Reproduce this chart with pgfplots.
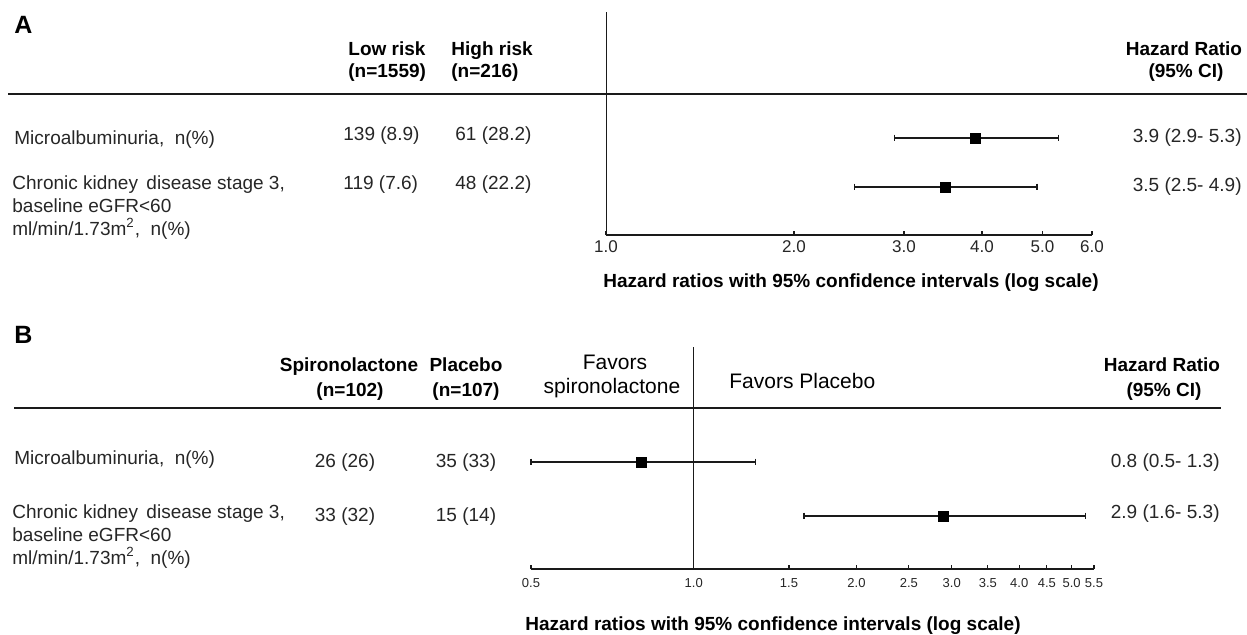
\documentclass[border=0pt]{standalone}
\usepackage{pgfplots}
\pgfplotsset{compat=1.18}
\usepackage{pgfplotstable}
\usepackage{fontspec}
\setmainfont{Liberation Sans}
\definecolor{txt}{HTML}{262626}
\definecolor{lin}{HTML}{1A1A1A}
\newcommand\bodyfont{\fontsize{9.5}{11}\selectfont}
\begin{document}
\begin{tikzpicture}
% ---------------- data ----------------
\pgfplotstableread{
x y
3.9 -138
3.5 -187
}\ptA
\pgfplotstableread{
x y
2.9 -138
5.3 -138
nan nan
2.5 -187
4.9 -187
}\ciA
\pgfplotstableread{
x y
0.8 -462
2.9 -516
}\ptB
\pgfplotstableread{
x y
0.5 -462
1.3 -462
nan nan
1.6 -516
5.3 -516
}\ciB
% ---------------- texts (pixel coordinates) ----------------
\begin{scope}[x=0.5pt,y=-0.5pt, every node/.style={inner sep=0pt, font=\bodyfont, text=txt}]
% Panel A
\node[anchor=base west, font=\fontsize{12.5}{14}\selectfont\bfseries, text=black] at (14,33) {A};
\node[anchor=base west, font=\bodyfont\bfseries, text=black] at (348,55) {Low risk};
\node[anchor=base west, font=\bodyfont\bfseries, text=black] at (348,77) {(n=1559)};
\node[anchor=base west, font=\bodyfont\bfseries, text=black] at (451,55) {High risk};
\node[anchor=base west, font=\bodyfont\bfseries, text=black] at (451,77) {(n=216)};
\node[anchor=base, font=\bodyfont\bfseries, text=black] at (1184,55) {Hazard Ratio};
\node[anchor=base, font=\bodyfont\bfseries, text=black] at (1186,77) {(95\% CI)};
\draw[line width=1.3pt, lin] (8,94) -- (1247,94);
\node[anchor=base west] at (14,144) {Microalbuminuria,\ \ n(\%)};
\node[anchor=base west] at (343,140) {139 (8.9)};
\node[anchor=base west] at (455,140) {61 (28.2)};
\node[anchor=base east] at (1242,142) {3.9 (2.9- 5.3)};
\node[anchor=base west] at (12,189) {Chronic kidney\ \,disease stage 3,};
\node[anchor=base west] at (12,212) {baseline\ eGFR<60};
\node[anchor=base west] at (12,235) {ml/min/1.73m\textsuperscript{2},\ \ n(\%)};
\node[anchor=base west] at (343,189) {119 (7.6)};
\node[anchor=base west] at (455,189) {48 (22.2)};
\node[anchor=base east] at (1242,191) {3.5 (2.5- 4.9)};
\node[anchor=base, font=\bodyfont\bfseries, text=black] at (851,287) {Hazard ratios with 95\% confidence intervals (log scale)};
% Panel B
\node[anchor=base west, font=\fontsize{12.5}{14}\selectfont\bfseries, text=black] at (14,343) {B};
\node[anchor=base, font=\bodyfont\bfseries, text=black] at (349,371) {Spironolactone};
\node[anchor=base, font=\bodyfont\bfseries, text=black] at (350,396) {(n=102)};
\node[anchor=base, font=\bodyfont\bfseries, text=black] at (466,371) {Placebo};
\node[anchor=base, font=\bodyfont\bfseries, text=black] at (466,396) {(n=107)};
\node[anchor=base, font=\fontsize{10.5}{12}\selectfont, text=black] at (615,369) {Favors};
\node[anchor=base, font=\fontsize{10.5}{12}\selectfont, text=black] at (612,393) {spironolactone};
\node[anchor=base west, font=\fontsize{10.5}{12}\selectfont, text=black] at (729,388) {Favors Placebo};
\node[anchor=base, font=\bodyfont\bfseries, text=black] at (1162,371) {Hazard Ratio};
\node[anchor=base, font=\bodyfont\bfseries, text=black] at (1164,396) {(95\% CI)};
\draw[line width=1.3pt, lin] (14,408) -- (1221,408);
\node[anchor=base west] at (14,464) {Microalbuminuria,\ \ n(\%)};
\node[anchor=base] at (345,467) {26 (26)};
\node[anchor=base] at (466,467) {35 (33)};
\node[anchor=base east] at (1220,467) {0.8 (0.5- 1.3)};
\node[anchor=base west] at (12,518) {Chronic kidney\ \,disease stage 3,};
\node[anchor=base west] at (12,541) {baseline\ eGFR<60};
\node[anchor=base west] at (12,564) {ml/min/1.73m\textsuperscript{2},\ \ n(\%)};
\node[anchor=base] at (345,521) {33 (32)};
\node[anchor=base] at (466,521) {15 (14)};
\node[anchor=base east] at (1220,518) {2.9 (1.6- 5.3)};
\node[anchor=base, font=\bodyfont\bfseries, text=black] at (773,630) {Hazard ratios with 95\% confidence intervals (log scale)};
\end{scope}
% ---------------- Panel A axis ----------------
\begin{axis}[at={(303pt,-117.5pt)}, anchor=south west, scale only axis,
  width=243pt, height=111.5pt,
  xmode=log, xmin=1, xmax=6, ymin=-235, ymax=-12,
  axis x line=bottom, axis y line=left, axis line style={-, lin},
  x axis line style={line width=0.9pt}, y axis line style={line width=0.5pt},
  xtick={1,2,3,4,5,6}, xticklabels={1.0,2.0,3.0,4.0,5.0,6.0},
  ytick=\empty, xminorticks=false,
  tick align=inside, major tick length=2pt, tick style={line width=0.6pt, lin},
  xticklabel style={font=\fontsize{8.5}{10}\selectfont, text=txt, inner sep=0pt, anchor=north, yshift=-2.5pt},
  clip=false]
\addplot[lin, line width=0.7pt, mark=|, mark size=1.7pt, mark options={line width=0.6pt}, unbounded coords=jump] table[x=x,y=y] {\ciA};
\addplot[only marks, mark=square*, mark size=2.5pt, black] table[x=x,y=y] {\ptA};
\end{axis}
% ---------------- Panel B axis ----------------
\begin{axis}[at={(265.5pt,-284.5pt)}, anchor=south west, scale only axis,
  width=281.5pt, height=111pt,
  xmode=log, xmin=0.5, xmax=5.5, ymin=-569, ymax=-347,
  axis x line=bottom, axis y line=none, axis line style={-, lin},
  x axis line style={line width=1.1pt},
  xtick={0.5,1,1.5,2,2.5,3,3.5,4,4.5,5,5.5},
  xticklabels={0.5,1.0,1.5,2.0,2.5,3.0,3.5,4.0,4.5,5.0,5.5},
  ytick=\empty, xminorticks=false,
  tick align=inside, major tick length=2pt, tick style={line width=0.6pt, lin},
  xticklabel style={font=\fontsize{6.5}{8}\selectfont, text=txt, inner sep=0pt, anchor=north, yshift=-4.5pt},
  clip=false]
\addplot[lin, line width=0.5pt] coordinates {(1,-569) (1,-347)};
\addplot[lin, line width=0.7pt, mark=|, mark size=1.7pt, mark options={line width=0.6pt}, unbounded coords=jump] table[x=x,y=y] {\ciB};
\addplot[only marks, mark=square*, mark size=2.5pt, black] table[x=x,y=y] {\ptB};
\end{axis}
\pgfresetboundingbox
\path[use as bounding box] (0pt,0pt) rectangle (623.5pt,-317pt);
\end{tikzpicture}
\end{document}
